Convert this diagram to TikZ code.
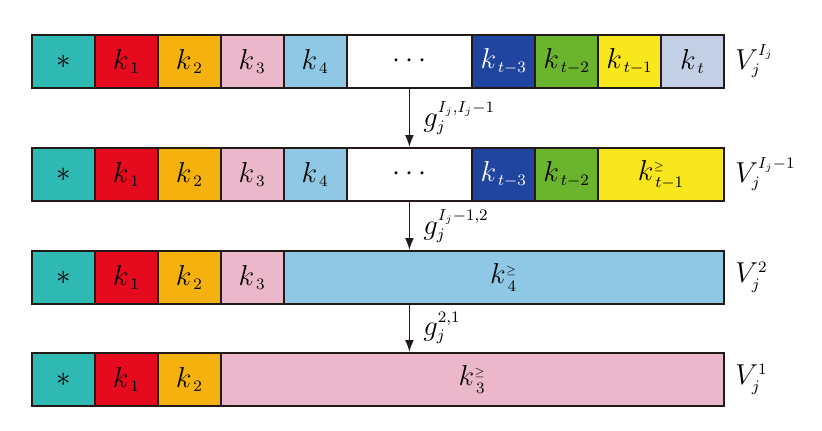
\documentclass[tikz,border=0pt]{standalone}
\usepackage{amssymb}
\usetikzlibrary{arrows.meta}
\DeclareMathSizes{14}{14}{7.6}{5.4}
\definecolor{cteal}{RGB}{47,185,179}
\definecolor{cred}{RGB}{230,10,30}
\definecolor{corange}{RGB}{245,178,15}
\definecolor{cpink}{RGB}{235,184,203}
\definecolor{clblue}{RGB}{143,200,228}
\definecolor{cdblue}{RGB}{31,69,160}
\definecolor{cgreen}{RGB}{106,180,46}
\definecolor{cyellow}{RGB}{248,231,28}
\definecolor{cgray}{RGB}{195,207,229}
\definecolor{cline}{RGB}{35,25,22}
\newcommand{\rowcell}[6]{\node[cell, fill=#5, minimum width={(#3-#2)*0.5pt}] (#1) at ({(#2+#3)/2},#4) {#6};}
\newcommand{\mygeq}{{\scriptscriptstyle\geq}}
\begin{document}
\begin{tikzpicture}[x=0.5pt,y=-0.5pt,
  cell/.style={draw=cline, line width=1pt, rectangle, inner sep=0pt, minimum height=26.5pt, font=\fontsize{14}{17}\selectfont},
  lbl/.style={anchor=west, inner sep=0pt, font=\fontsize{14}{17}\selectfont},
  flow/.style={draw=cline, line width=0.9pt, -{Latex[length=6pt,width=4.5pt]}}]
\useasboundingbox (0,0) rectangle (822,430);
% row 1
\rowcell{a0}{32}{94.9}{61.5}{cteal}{$*$}
\rowcell{a1}{94.9}{157.8}{61.5}{cred}{$k_{\,1}$}
\rowcell{a2}{157.8}{220.7}{61.5}{corange}{$k_{\,2}$}
\rowcell{a3}{220.7}{283.6}{61.5}{cpink}{$k_{\,3}$}
\rowcell{a4}{283.6}{346.5}{61.5}{clblue}{$k_{\,4}$}
\rowcell{ad}{346.5}{472.3}{61.5}{white}{$\cdots$}
\rowcell{a5}{472.3}{535.2}{61.5}{cdblue}{\color{white}$k_{\,t-3}$}
\rowcell{a6}{535.2}{598.1}{61.5}{cgreen}{$k_{\,t-2}$}
\rowcell{a7}{598.1}{661}{61.5}{cyellow}{$k_{\,t-1}$}
\rowcell{a8}{661}{723.9}{61.5}{cgray}{$k_{\,t}$}
\node[lbl] (va) at (735,61.5) {$V_j^{I_j}$};
% row 2
\rowcell{b0}{32}{94.9}{174.5}{cteal}{$*$}
\rowcell{b1}{94.9}{157.8}{174.5}{cred}{$k_{\,1}$}
\rowcell{b2}{157.8}{220.7}{174.5}{corange}{$k_{\,2}$}
\rowcell{b3}{220.7}{283.6}{174.5}{cpink}{$k_{\,3}$}
\rowcell{b4}{283.6}{346.5}{174.5}{clblue}{$k_{\,4}$}
\rowcell{bd}{346.5}{472.3}{174.5}{white}{$\cdots$}
\rowcell{b5}{472.3}{535.2}{174.5}{cdblue}{\color{white}$k_{\,t-3}$}
\rowcell{b6}{535.2}{598.1}{174.5}{cgreen}{$k_{\,t-2}$}
\rowcell{b7}{598.1}{723.9}{174.5}{cyellow}{$k_{\,t-1}^{\mygeq}$}
\node[lbl] (vb) at (735,174.5) {$V_j^{I_j-1}$};
% row 3
\rowcell{c0}{32}{94.9}{277.5}{cteal}{$*$}
\rowcell{c1}{94.9}{157.8}{277.5}{cred}{$k_{\,1}$}
\rowcell{c2}{157.8}{220.7}{277.5}{corange}{$k_{\,2}$}
\rowcell{c3}{220.7}{283.6}{277.5}{cpink}{$k_{\,3}$}
\rowcell{c4}{283.6}{723.9}{277.5}{clblue}{$k_{\,4}^{\mygeq}$}
\node[lbl] (vc) at (735,277.5) {$V_j^{2}$};
% row 4
\rowcell{d0}{32}{94.9}{379.5}{cteal}{$*$}
\rowcell{d1}{94.9}{157.8}{379.5}{cred}{$k_{\,1}$}
\rowcell{d2}{157.8}{220.7}{379.5}{corange}{$k_{\,2}$}
\rowcell{d3}{220.7}{723.9}{379.5}{cpink}{$k_{\,3}^{\mygeq}$}
\node[lbl] (vd) at (735,379.5) {$V_j^{1}$};
% arrows
\draw[flow] (ad.south) -- (bd.north);
\draw[flow] (bd.south) -- (bd.south |- c4.north);
\draw[flow] (bd.south |- c4.south) -- (bd.south |- d3.north);
\node[lbl] (g1) at (423,118) {$g_j^{I_j,I_j-1}$};
\node[lbl] (g2) at (423,226) {$g_j^{I_j-1,2}$};
\node[lbl] (g3) at (423,328) {$g_j^{2,1}$};
\end{tikzpicture}
\end{document}
